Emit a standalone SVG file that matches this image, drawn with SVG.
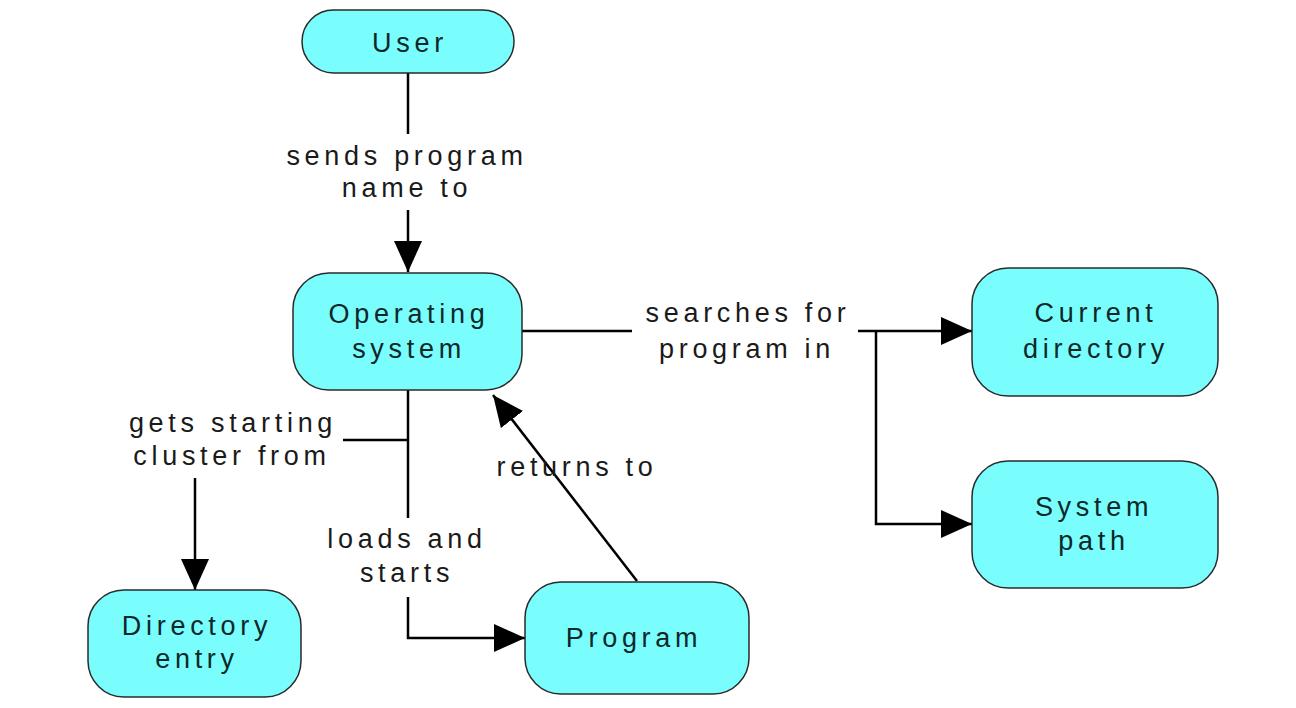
<svg xmlns="http://www.w3.org/2000/svg" width="1296" height="708" viewBox="0 0 1296 708">
  <style>
    .node rect { fill: #79fdfd; stroke: #2a2a2a; stroke-width: 1.5; }
    .node text { font-family: "Liberation Sans", Arial, sans-serif; font-size: 27px; letter-spacing: 4.7px; fill: #0d2828; text-anchor: middle; }
    .lbl { font-family: "Liberation Sans", Arial, sans-serif; font-size: 27px; letter-spacing: 4.7px; fill: #1a1a1a; text-anchor: middle; }
    .conn path { fill: none; stroke: #000; stroke-width: 2.5; }
  </style>
  <defs>
    <marker id="arrow" markerUnits="userSpaceOnUse" markerWidth="32" markerHeight="30" refX="31" refY="14" orient="auto">
      <path d="M0,0 L31,14 L0,28 z" fill="#000"/>
    </marker>
  </defs>
  <rect width="1296" height="708" fill="#fff"/>

  <g id="connectors" class="conn">
    <path d="M408,73 V134"/>
    <path d="M408,210 V272" marker-end="url(#arrow)"/>
    <path d="M522,331 H632"/>
    <path d="M858,331 H972" marker-end="url(#arrow)"/>
    <path d="M876,331 V524 H972" marker-end="url(#arrow)"/>
    <path d="M408,390 V518"/>
    <path d="M408,597 V638 H525" marker-end="url(#arrow)"/>
    <path d="M408,440 H343"/>
    <path d="M195,478 V590" marker-end="url(#arrow)"/>
    <path d="M637,581 L493,395" marker-end="url(#arrow)"/>
  </g>

  <g id="labels">
    <text class="lbl" x="407" y="165">sends program</text>
    <text class="lbl" x="407" y="197">name to</text>
    <text class="lbl" x="748" y="322">searches for</text>
    <text class="lbl" x="747" y="358">program in</text>
    <text class="lbl" x="233" y="432">gets starting</text>
    <text class="lbl" x="232" y="465">cluster from</text>
    <text class="lbl" x="407" y="548">loads and</text>
    <text class="lbl" x="407" y="582">starts</text>
    <text class="lbl" x="577" y="476">returns to</text>
  </g>

  <g id="user" class="node">
    <rect x="302" y="10" width="212" height="63" rx="31.5" ry="31.5"/>
    <text x="410" y="52">User</text>
  </g>
  <g id="operating-system" class="node">
    <rect x="293" y="273" width="229" height="117" rx="36" ry="36"/>
    <text x="409" y="323">Operating</text>
    <text x="409" y="358">system</text>
  </g>
  <g id="current-directory" class="node">
    <rect x="972" y="268" width="246" height="128" rx="36" ry="36"/>
    <text x="1096" y="322">Current</text>
    <text x="1096" y="358">directory</text>
  </g>
  <g id="system-path" class="node">
    <rect x="972" y="461" width="246" height="127" rx="36" ry="36"/>
    <text x="1094" y="516">System</text>
    <text x="1094" y="550">path</text>
  </g>
  <g id="program" class="node">
    <rect x="525" y="582" width="224" height="112" rx="36" ry="36"/>
    <text x="634" y="647">Program</text>
  </g>
  <g id="directory-entry" class="node">
    <rect x="88" y="590" width="213" height="107" rx="36" ry="36"/>
    <text x="197" y="635">Directory</text>
    <text x="197" y="668">entry</text>
  </g>
</svg>
